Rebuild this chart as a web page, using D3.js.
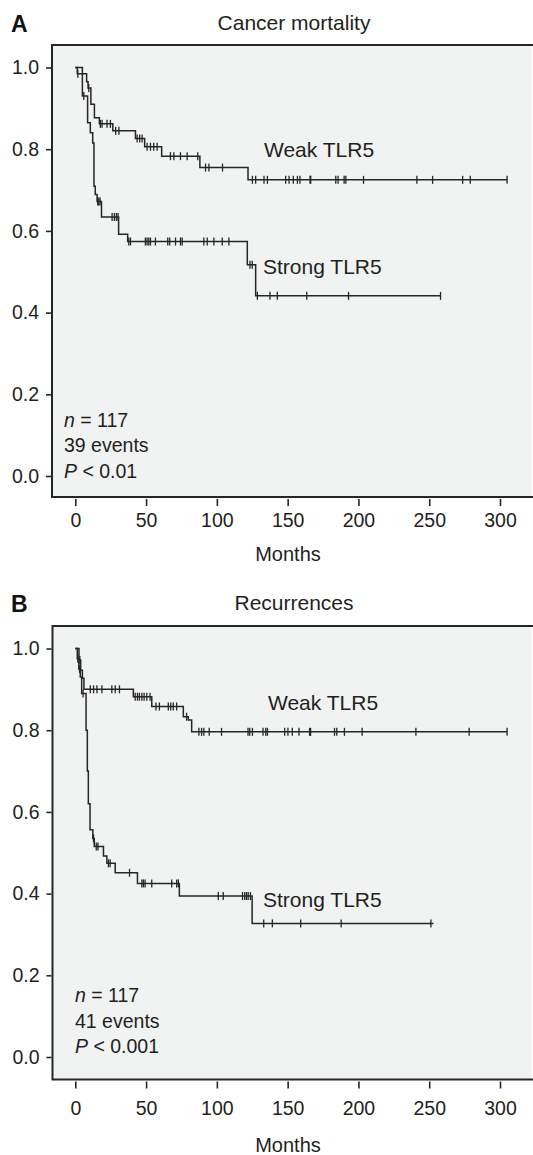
<!DOCTYPE html>
<html>
<head>
<meta charset="utf-8">
<script src="https://cdn.jsdelivr.net/npm/d3@7"></script>
<style>
  body { margin: 0; background: #fff; }
  svg { display: block; font-family: 'Liberation Sans', Arial, sans-serif; }
</style>
</head>
<body>
<svg id="chart" width="533" height="1155"></svg>
<script>
const monthTicks = [0, 50, 100, 150, 200, 250, 300];
const survivalTicks = [0, 0.2, 0.4, 0.6, 0.8, 1.0];

// A: cancer mortality — [month, survival after drop]
const mortWeakSteps = [[5, 0.985], [8, 0.965], [9, 0.95], [11, 0.91], [13.5, 0.877], [17, 0.862],
  [26.5, 0.845], [42.5, 0.826], [49, 0.806], [61, 0.783], [88, 0.755], [122, 0.725]];
const mortWeakCensored = [9.5, 17.7, 18.9, 22.4, 24.8, 28.5, 30.8, 43.7, 45.5, 47.2, 50.7, 53.1, 55.4,
  57.8, 67.2, 69.6, 74.3, 79, 86.5, 92, 94.4, 104, 125.1, 127.4, 133.3, 135.7, 148.6, 151, 154, 156.9,
  158.7, 165.8, 166.3, 184, 185.6, 189.9, 191.1, 203.6, 241.3, 252.4, 273.6, 279, 305];
const mortWeakEnd = 305;

const mortStrongSteps = [[1.4, 0.985], [5, 0.93], [8.7, 0.865], [10.6, 0.84], [12.3, 0.815], [13.2, 0.709],
  [14.1, 0.689], [15.4, 0.672], [18.5, 0.634], [30.6, 0.592], [37, 0.574], [121.5, 0.517], [127.4, 0.441]];
const mortStrongCensored = [1.8, 6, 15.8, 16.6, 17.5, 26, 27.6, 29, 30.2, 37.8, 39, 49.5, 50.7, 51.9, 53.1,
  56.6, 65.3, 66.7, 70.8, 74.3, 75.5, 90.8, 93.2, 97.9, 103.8, 108.5, 123.4, 125, 128.6, 137.5, 142.7,
  163.5, 193, 258];
const mortStrongEnd = 258;

// B: recurrences
const recWeakSteps = [[2.6, 0.972], [3.8, 0.947], [5, 0.927], [6.1, 0.9], [41, 0.882], [54, 0.858],
  [76.3, 0.833], [79.8, 0.825], [82.2, 0.796]];
const recWeakCensored = [3.2, 10.6, 12.9, 15.3, 18.8, 25.8, 28.2, 31.2, 42.3, 43.9, 45.3, 47, 48.6, 50.5,
  52.8, 57, 59.4, 65.7, 67.4, 69.2, 71.6, 78.6, 87.3, 89.2, 90.8, 94.6, 103.3, 122, 123.2, 125.1, 132.6,
  134.5, 135.7, 147.9, 150.2, 153.3, 158, 165.5, 166.2, 183.1, 184.7, 190.1, 202.6, 240.6, 278.2, 305];
const recWeakEnd = 305;

const recStrongSteps = [[1.4, 0.975], [2.5, 0.95], [3.5, 0.93], [4.5, 0.89], [7.6, 0.8], [8.5, 0.7],
  [9.2, 0.62], [10.4, 0.556], [12.4, 0.535], [13.4, 0.515], [19.9, 0.492], [22.3, 0.474], [28.2, 0.451],
  [43.9, 0.425], [73.5, 0.394], [124.9, 0.327]];
const recStrongCensored = [1.8, 3, 5.5, 12.9, 14.8, 16, 23.4, 24.6, 38.3, 47, 48.1, 49.3, 54, 68.1, 71.6,
  72.8, 101, 104.5, 118.1, 119.7, 120.9, 122.1, 123.7, 133.1, 139.2, 159.2, 187.8, 251.2];
const recStrongEnd = 253;

const ink = '#262626';
const textInk = '#231f20';
const svg = d3.select('#chart');

function survivalAt(steps, t) {
  let s = 1;
  steps.forEach(([st, sv]) => { if (st <= t) s = sv; });
  return s;
}

function drawCurve(g, x, y, steps, censored, end) {
  const pts = [[0, 1], ...steps, [end, steps[steps.length - 1][1]]];
  const line = d3.line().x((d) => x(d[0])).y((d) => y(d[1])).curve(d3.curveStepAfter);
  g.append('path').attr('d', line(pts))
    .attr('fill', 'none').attr('stroke', ink).attr('stroke-width', 1.5);
  g.append('g').selectAll('line').data(censored).join('line')
    .attr('x1', (d) => x(d)).attr('x2', (d) => x(d))
    .attr('y1', (d) => y(survivalAt(steps, d)) - 4)
    .attr('y2', (d) => y(survivalAt(steps, d)) + 4)
    .attr('stroke', ink).attr('stroke-width', 1.3);
}

function drawPanel(p) {
  const g = svg.append('g');
  const x = d3.scaleLinear().domain([0, 300]).range([75.3, 500]);
  const y = d3.scaleLinear().domain([0, 1]).range([p.y0, p.y1]);

  g.append('rect').attr('x', p.left).attr('y', p.top)
    .attr('width', 531.5 - p.left).attr('height', p.bottom - p.top).attr('fill', '#f1f2f2');
  g.append('path').attr('d', `M533,${p.top}H${p.left}V${p.bottom}H533`)
    .attr('fill', 'none').attr('stroke', ink).attr('stroke-width', 2);

  const ya = g.append('g').attr('transform', `translate(${p.left - 1},0)`)
    .call(d3.axisLeft(y).tickValues(survivalTicks).tickFormat(d3.format('.1f')).tickSize(5).tickPadding(7));
  const xa = g.append('g').attr('transform', `translate(0,${p.bottom + 2})`)
    .call(d3.axisBottom(x).tickValues(monthTicks).tickSize(7).tickPadding(p.xPad));
  [ya, xa].forEach((a) => {
    a.select('.domain').remove();
    a.selectAll('line').attr('stroke', ink).attr('stroke-width', 1.6);
    a.selectAll('text').attr('fill', textInk).style('font-size', '19.5px')
      .style('font-family', "'Liberation Sans', Arial, sans-serif");
  });

  g.append('text').attr('x', 288).attr('y', p.monthsY).attr('text-anchor', 'middle')
    .attr('fill', textInk).style('font-size', '20px').text('Months');
  g.append('text').attr('x', 294).attr('y', p.titleY).attr('text-anchor', 'middle')
    .attr('fill', textInk).style('font-size', '21px').text(p.title);
  g.append('text').attr('x', 11).attr('y', p.titleY + 2)
    .attr('fill', '#111').style('font-size', '23px').style('font-weight', 'bold').text(p.letter);

  drawCurve(g, x, y, p.weak, p.weakCens, p.weakEnd);
  drawCurve(g, x, y, p.strong, p.strongCens, p.strongEnd);

  g.append('text').attr('x', p.weakLabel[0]).attr('y', p.weakLabel[1])
    .attr('fill', textInk).style('font-size', '21px').text('Weak TLR5');
  g.append('text').attr('x', p.strongLabel[0]).attr('y', p.strongLabel[1])
    .attr('fill', textInk).style('font-size', '21px').text('Strong TLR5');

  const st = g.append('g').attr('fill', textInk).style('font-size', '19.5px');
  const l1 = st.append('text').attr('x', p.statsX).attr('y', p.statsY[0]);
  l1.append('tspan').style('font-style', 'italic').text('n');
  l1.append('tspan').text(' = 117');
  st.append('text').attr('x', p.statsX).attr('y', p.statsY[1]).text(p.events);
  const l3 = st.append('text').attr('x', p.statsX).attr('y', p.statsY[2]);
  l3.append('tspan').style('font-style', 'italic').text('P');
  l3.append('tspan').text(p.pText);
}

drawPanel({
  letter: 'A', title: 'Cancer mortality', titleY: 30,
  top: 45, bottom: 497, left: 52, y0: 476, y1: 67.5, xPad: 7.5, monthsY: 561,
  weak: mortWeakSteps, weakCens: mortWeakCensored, weakEnd: mortWeakEnd,
  strong: mortStrongSteps, strongCens: mortStrongCensored, strongEnd: mortStrongEnd,
  weakLabel: [264, 157], strongLabel: [263, 274],
  statsX: 64, statsY: [426.5, 452, 477.5], events: '39 events', pText: ' < 0.01',
});

drawPanel({
  letter: 'B', title: 'Recurrences', titleY: 610,
  top: 626, bottom: 1079.5, left: 52.5, y0: 1057, y1: 648.5, xPad: 13, monthsY: 1152,
  weak: recWeakSteps, weakCens: recWeakCensored, weakEnd: recWeakEnd,
  strong: recStrongSteps, strongCens: recStrongCensored, strongEnd: recStrongEnd,
  weakLabel: [268, 710], strongLabel: [263, 907],
  statsX: 75, statsY: [1001.5, 1027.5, 1053], events: '41 events', pText: ' < 0.001',
});
</script>
</body>
</html>
